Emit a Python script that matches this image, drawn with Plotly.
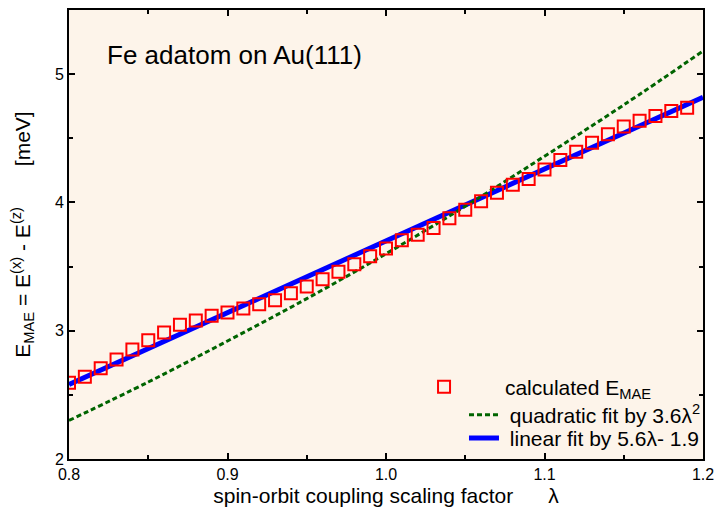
import plotly.graph_objects as go

# ---- data ----
lam = [0.80, 0.81, 0.82, 0.83, 0.84, 0.85, 0.86, 0.87, 0.88, 0.89,
       0.90, 0.91, 0.92, 0.93, 0.94, 0.95, 0.96, 0.97, 0.98, 0.99,
       1.00, 1.01, 1.02, 1.03, 1.04, 1.05, 1.06, 1.07, 1.08, 1.09,
       1.10, 1.11, 1.12, 1.13, 1.14, 1.15, 1.16, 1.17, 1.18, 1.19]
e_mae = [2.594, 2.641, 2.708, 2.775, 2.853, 2.925, 2.987, 3.047, 3.080, 3.116,
         3.142, 3.173, 3.207, 3.238, 3.292, 3.344, 3.401, 3.460, 3.519, 3.581,
         3.641, 3.705, 3.749, 3.801, 3.876, 3.943, 4.010, 4.075, 4.137, 4.183,
         4.256, 4.331, 4.395, 4.465, 4.532, 4.592, 4.636, 4.674, 4.713, 4.739]

quad_lam = [0.80, 0.85, 0.90, 0.95, 1.00, 1.05, 1.10, 1.15, 1.20]
quad_fit = [2.30, 2.60, 2.92, 3.25, 3.60, 3.97, 4.36, 4.76, 5.18]

lin_lam = [0.80, 1.20]
lin_fit = [2.58, 4.82]

x_ticks = [0.8, 0.9, 1.0, 1.1, 1.2]
x_tick_labels = ["0.8", "0.9", "1.0", "1.1", "1.2"]
y_ticks = [2, 3, 4, 5]

NB = "\u00a0"
font_family = "Liberation Sans, Arial, sans-serif"
leg_font = dict(family=font_family, size=21, color="black")

fig = go.Figure()
fig.add_trace(go.Scatter(
    x=lin_lam, y=lin_fit, mode="lines",
    line=dict(color="#0000ff", width=5),
    name=NB + "linear fit by 5.6λ- 1.9", legend="legend3",
    showlegend=True))
fig.add_trace(go.Scatter(
    x=quad_lam, y=quad_fit, mode="lines",
    line=dict(color="#006400", width=3, dash="5px,3px", shape="spline"),
    name=NB + "quadratic fit by 3.6λ<sup>2</sup>", legend="legend2",
    showlegend=True))
fig.add_trace(go.Scatter(
    x=lam, y=e_mae, mode="markers",
    marker=dict(symbol="square-open", size=12, color="#ff0000", line=dict(width=2)),
    name=NB * 7 + "calculated E<sub>MAE</sub>", legend="legend",
    showlegend=True))

fig.add_annotation(x=0.057, y=0.90, xref="paper", yref="paper",
                   text="Fe adatom on Au(111)", showarrow=False,
                   xanchor="left", yanchor="middle",
                   font=dict(size=26, color="black"))

leg_common = dict(xanchor="left", yanchor="middle", bgcolor="rgba(0,0,0,0)",
                  font=leg_font, tracegroupgap=0, itemwidth=30)

fig.update_layout(
    width=722, height=517,
    margin=dict(l=69, r=13, t=8, b=58),
    showlegend=True,
    paper_bgcolor="white", plot_bgcolor="#fdf4ea",
    font=dict(family=font_family, size=16, color="black"),
    legend=dict(x=0.56, y=0.160, **leg_common),
    legend2=dict(x=0.623, y=0.098, **leg_common),
    legend3=dict(x=0.623, y=0.046, **leg_common),
    xaxis=dict(range=[0.8, 1.2], tickvals=x_ticks, ticktext=x_tick_labels,
               ticks="inside", ticklen=6, tickwidth=1.5, tickcolor="black",
               showline=True, linewidth=2, linecolor="black", mirror="allticks",
               showgrid=False, zeroline=False,
               minor=dict(ticks="inside", ticklen=4, dtick=0.05, tick0=0.8,
                          tickcolor="black", showgrid=False),
               title=dict(text="spin-orbit coupling scaling factor" + NB * 6 + "λ",
                          font=dict(size=21), standoff=6)),
    yaxis=dict(range=[2, 5.5], tickvals=y_ticks,
               ticks="inside", ticklen=6, tickwidth=1.5, tickcolor="black",
               showline=True, linewidth=2, linecolor="black", mirror="allticks",
               showgrid=False, zeroline=False,
               minor=dict(ticks="inside", ticklen=4, dtick=0.5, tick0=2,
                          tickcolor="black", showgrid=False),
               title=dict(text="E<sub>MAE</sub> = E<sup>(x)</sup> - E<sup>(z)</sup>" + NB * 7 + "[meV]",
                          font=dict(size=21), standoff=19)),
)

fig.write_html("out.html")
